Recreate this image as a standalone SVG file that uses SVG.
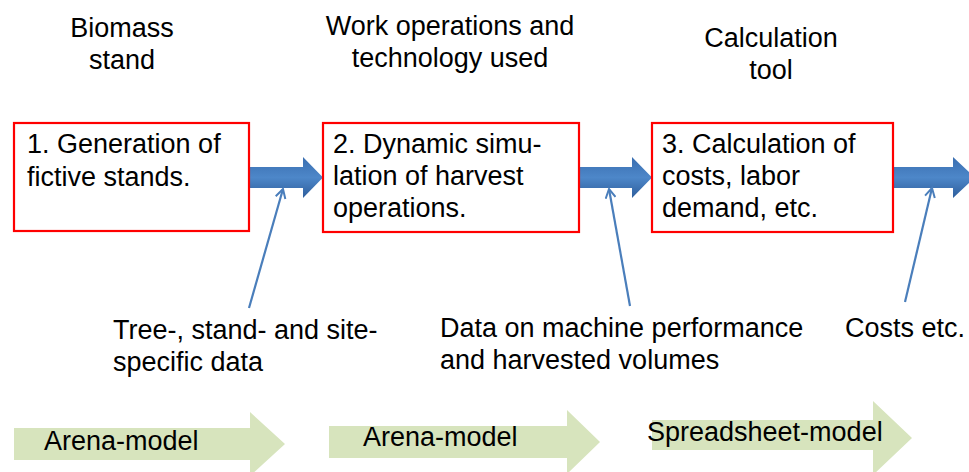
<svg xmlns="http://www.w3.org/2000/svg" width="969" height="472" viewBox="0 0 969 472">
<style>
text{font-family:"Liberation Sans",Arial,sans-serif;font-size:27px;fill:#000}
.box{fill:#fff;stroke:#ff0000;stroke-width:2.2}
.flow{fill:url(#bg)}
.green{fill:#d7e4bd}
.ln{stroke:#4a7ebb;stroke-width:2.2;fill:none;marker-end:url(#oa)}
.c{text-anchor:middle}
</style>
<defs>
<linearGradient id="bg" x1="0" y1="0" x2="0" y2="1">
<stop offset="0" stop-color="#3a6eb0"/>
<stop offset="0.5" stop-color="#4d87c9"/>
<stop offset="1" stop-color="#2e5e9c"/>
</linearGradient>
<marker id="oa" viewBox="0 0 12 12" refX="10" refY="6" markerWidth="12" markerHeight="12" markerUnits="userSpaceOnUse" orient="auto">
<path d="M1,1 L10,6 L1,11" fill="none" stroke="#4a7ebb" stroke-width="2"/>
</marker>
</defs>
<g id="headers">
<text class="c" x="122" y="37">Biomass</text>
<text class="c" x="122" y="69">stand</text>
<text class="c" x="450" y="35">Work operations and</text>
<text class="c" x="450" y="67">technology used</text>
<text class="c" x="771" y="47">Calculation</text>
<text class="c" x="771" y="79">tool</text>
</g>
<g id="connectors">
<path class="flow" d="M249,167 H303 V157 L323,177.5 L303,198 V188 H249 Z"/>
<path class="flow" d="M579,167 H632 V157 L652,177.5 L632,198 V188 H579 Z"/>
<path class="flow" d="M893,167 H953 V157 L975,177.5 L953,198 V188 H893 Z"/>
<line class="ln" x1="249" y1="308" x2="283" y2="189"/>
<line class="ln" x1="630" y1="306" x2="609" y2="189"/>
<line class="ln" x1="905" y1="302" x2="932" y2="188"/>
</g>
<g id="node1">
<rect class="box" x="14" y="123" width="235" height="108"/>
<text x="27" y="153">1. Generation of</text>
<text x="27" y="186">fictive stands.</text>
</g>
<g id="node2">
<rect class="box" x="323" y="123" width="256" height="109"/>
<text x="333" y="153">2. Dynamic simu-</text>
<text x="333" y="185">lation of harvest</text>
<text x="333" y="217">operations.</text>
</g>
<g id="node3">
<rect class="box" x="652" y="123" width="241" height="109"/>
<text x="662" y="153">3. Calculation of</text>
<text x="662" y="185">costs, labor</text>
<text x="662" y="217">demand, etc.</text>
</g>
<g id="inputs">
<text x="113" y="339">Tree-, stand- and site-</text>
<text x="113" y="371">specific data</text>
<text x="440" y="337">Data on machine performance</text>
<text x="440" y="369">and harvested volumes</text>
<text x="845" y="337">Costs etc.</text>
</g>
<g id="model1">
<path class="green" d="M14,428 H250 V412 L285,444 L250,476 V460 H14 Z"/>
<text x="44" y="450">Arena-model</text>
</g>
<g id="model2">
<path class="green" d="M329,426 H567 V410 L600,442 L567,474 V458 H329 Z"/>
<text x="363" y="446">Arena-model</text>
</g>
<g id="model3">
<path class="green" d="M652,420 H873 V401 L912,438 L873,475 V450 H652 Z"/>
<text x="647" y="441">Spreadsheet-model</text>
</g>
</svg>
